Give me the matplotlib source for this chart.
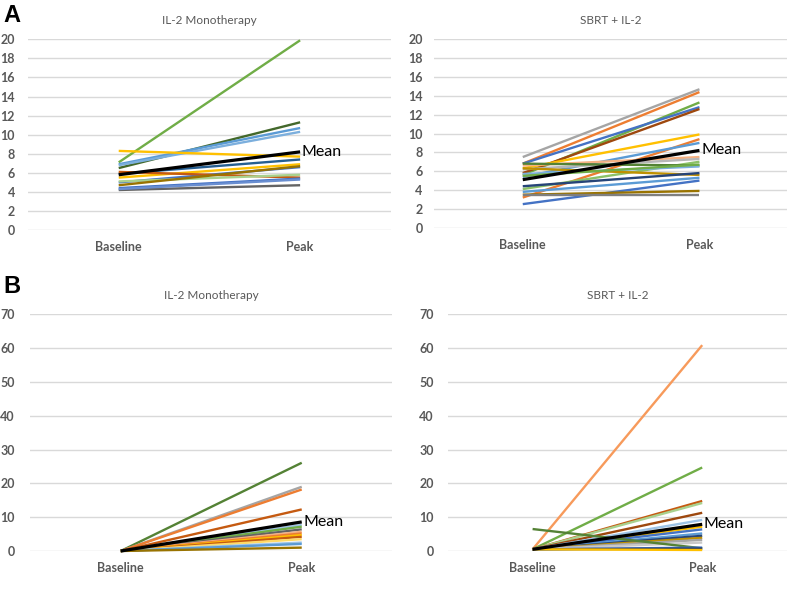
import matplotlib
matplotlib.use('Agg')
import matplotlib.pyplot as plt

# categories
cats = ['Baseline', 'Peak']

# Panel A, IL-2 monotherapy
a_mono_base = [7.1, 6.5, 6.9, 6.8, 8.3, 5.9, 5.5, 5.0, 6.1, 5.1, 4.7, 4.4, 4.2, 4.3]
a_mono_peak = [19.9, 11.3, 10.7, 10.3, 7.7, 7.4, 6.9, 6.6, 5.5, 5.8, 6.7, 5.4, 4.7, 5.3]
a_mono_mean = [5.8, 8.2]

# Panel A, SBRT + IL-2
a_sbrt_base = [7.5, 6.8, 5.6, 6.8, 5.8, 6.3, 3.2, 5.4, 6.6, 6.2, 4.1, 6.8, 5.7, 6.3, 4.4, 3.8, 2.5, 3.5, 3.5, 5.5]
a_sbrt_peak = [14.7, 14.4, 13.3, 12.8, 12.6, 9.9, 9.4, 9.0, 7.5, 7.3, 7.0, 6.6, 6.5, 5.6, 5.8, 5.3, 5.0, 3.9, 3.5, 6.7]
a_sbrt_mean = [5.1, 8.2]

# Panel B, IL-2 monotherapy
b_mono_base = [0] * 15
b_mono_peak = [26.1, 19.0, 18.2, 12.3, 7.7, 7.2, 6.4, 5.7, 5.2, 4.7, 4.2, 3.5, 2.5, 2.1, 1.0]
b_mono_mean = [0, 8.6]

# Panel B, SBRT + IL-2
b_sbrt_base = [0.5, 0.5, 0.5, 0.5, 0.5, 0.5, 0.5, 0.5, 0.5, 0.5, 0.5, 0.5, 0.5, 6.5, 0.5, 0.5, 0.5]
b_sbrt_peak = [60.9, 24.7, 14.8, 14.2, 11.3, 9.2, 7.2, 6.4, 5.2, 4.5, 3.9, 3.3, 2.5, 0.8, 1.0, 0.7, 0.3]
b_sbrt_mean = [0.5, 7.9]

# line colours (Excel office palette)
a_mono_cols = ['#70AD47', '#43682B', '#5B9BD5', '#7CAFDD', '#FFC000', '#255E91', '#FFC000', '#4472C4',
               '#C55A11', '#A9D18E', '#997300', '#4472C4', '#636363', '#698ED0']
a_sbrt_cols = ['#A5A5A5', '#ED7D31', '#70AD47', '#4472C4', '#9E480E', '#FFC000', '#ED7D31', '#5B9BD5',
               '#F4B183', '#B7B7B7', '#8CC168', '#548235', '#7CAFDD', '#BF9000', '#264478', '#5B9BD5',
               '#4472C4', '#997300', '#7F7F7F', '#70AD47']
b_mono_cols = ['#548235', '#A5A5A5', '#ED7D31', '#C55A11', '#9DC3E6', '#70AD47', '#636363', '#F4B183',
               '#ED7D31', '#FFC000', '#C55A11', '#FFD966', '#9DC3E6', '#5B9BD5', '#997300']
b_sbrt_cols = ['#F79A5B', '#70AD47', '#C55A11', '#A9D18E', '#9E480E', '#9DC3E6', '#FFC000', '#4472C4',
               '#5B9BD5', '#264478', '#BF9000', '#A5A5A5', '#C9C9C9', '#548235', '#4472C4', '#203864', '#FFC000']

fig = plt.figure(figsize=(7.87, 5.96), dpi=100)

panels = [
    # rect, title, base, peak, mean, cols, ymax, step, ypad
    ([0.0356, 0.614, 0.461, 0.320], 'IL-2 Monotherapy', a_mono_base, a_mono_peak, a_mono_mean, a_mono_cols, 20, 2, 9.5),
    ([0.552, 0.618, 0.449, 0.316], 'SBRT + IL-2', a_sbrt_base, a_sbrt_peak, a_sbrt_mean, a_sbrt_cols, 20, 2, 8.5),
    ([0.0384, 0.0755, 0.460, 0.397], 'IL-2 Monotherapy', b_mono_base, b_mono_peak, b_mono_mean, b_mono_cols, 70, 10, 11),
    ([0.569, 0.0755, 0.431, 0.397], 'SBRT + IL-2', b_sbrt_base, b_sbrt_peak, b_sbrt_mean, b_sbrt_cols, 70, 10, 10),
]

for rect, title, base, peak, mean, cols, ymax, step, ypad in panels:
    ax = fig.add_axes(rect)
    for b, p, c in zip(base, peak, cols):
        ax.plot([0, 1], [b, p], color=c, lw=1.7, solid_capstyle='butt', clip_on=False)
    ax.plot([0, 1], mean, color='black', lw=2.3, solid_capstyle='butt', clip_on=False, zorder=5)
    ax.text(1.01, mean[1], 'Mean', fontsize=11.5, family='Lato', va='center', ha='left', color='black')
    ax.set_xlim(-0.5, 1.5)
    ax.set_ylim(0, ymax)
    ax.set_yticks(range(0, ymax + 1, step))
    ax.set_xticks([0, 1])
    ax.set_xticklabels(cats)
    ax.grid(axis='y', color='#D9D9D9', lw=1)
    ax.set_axisbelow(True)
    for s in ax.spines.values():
        s.set_visible(False)
    ax.tick_params(axis='both', length=0, colors='#595959')
    ax.tick_params(axis='y', pad=ypad)
    ax.tick_params(axis='x', pad=8)
    for lab in ax.get_xticklabels() + ax.get_yticklabels():
        lab.set_fontfamily('Lato')
        lab.set_fontweight('bold')
        lab.set_fontsize(9)
    ax.set_title(title, fontsize=8.5, family='Lato', color='#595959', pad=11)

fig.text(0.004, 0.993, 'A', fontsize=17, fontweight='bold', family='Liberation Sans', va='top')
fig.text(0.004, 0.538, 'B', fontsize=17, fontweight='bold', family='Liberation Sans', va='top')

fig.savefig('out.png', dpi=100)
